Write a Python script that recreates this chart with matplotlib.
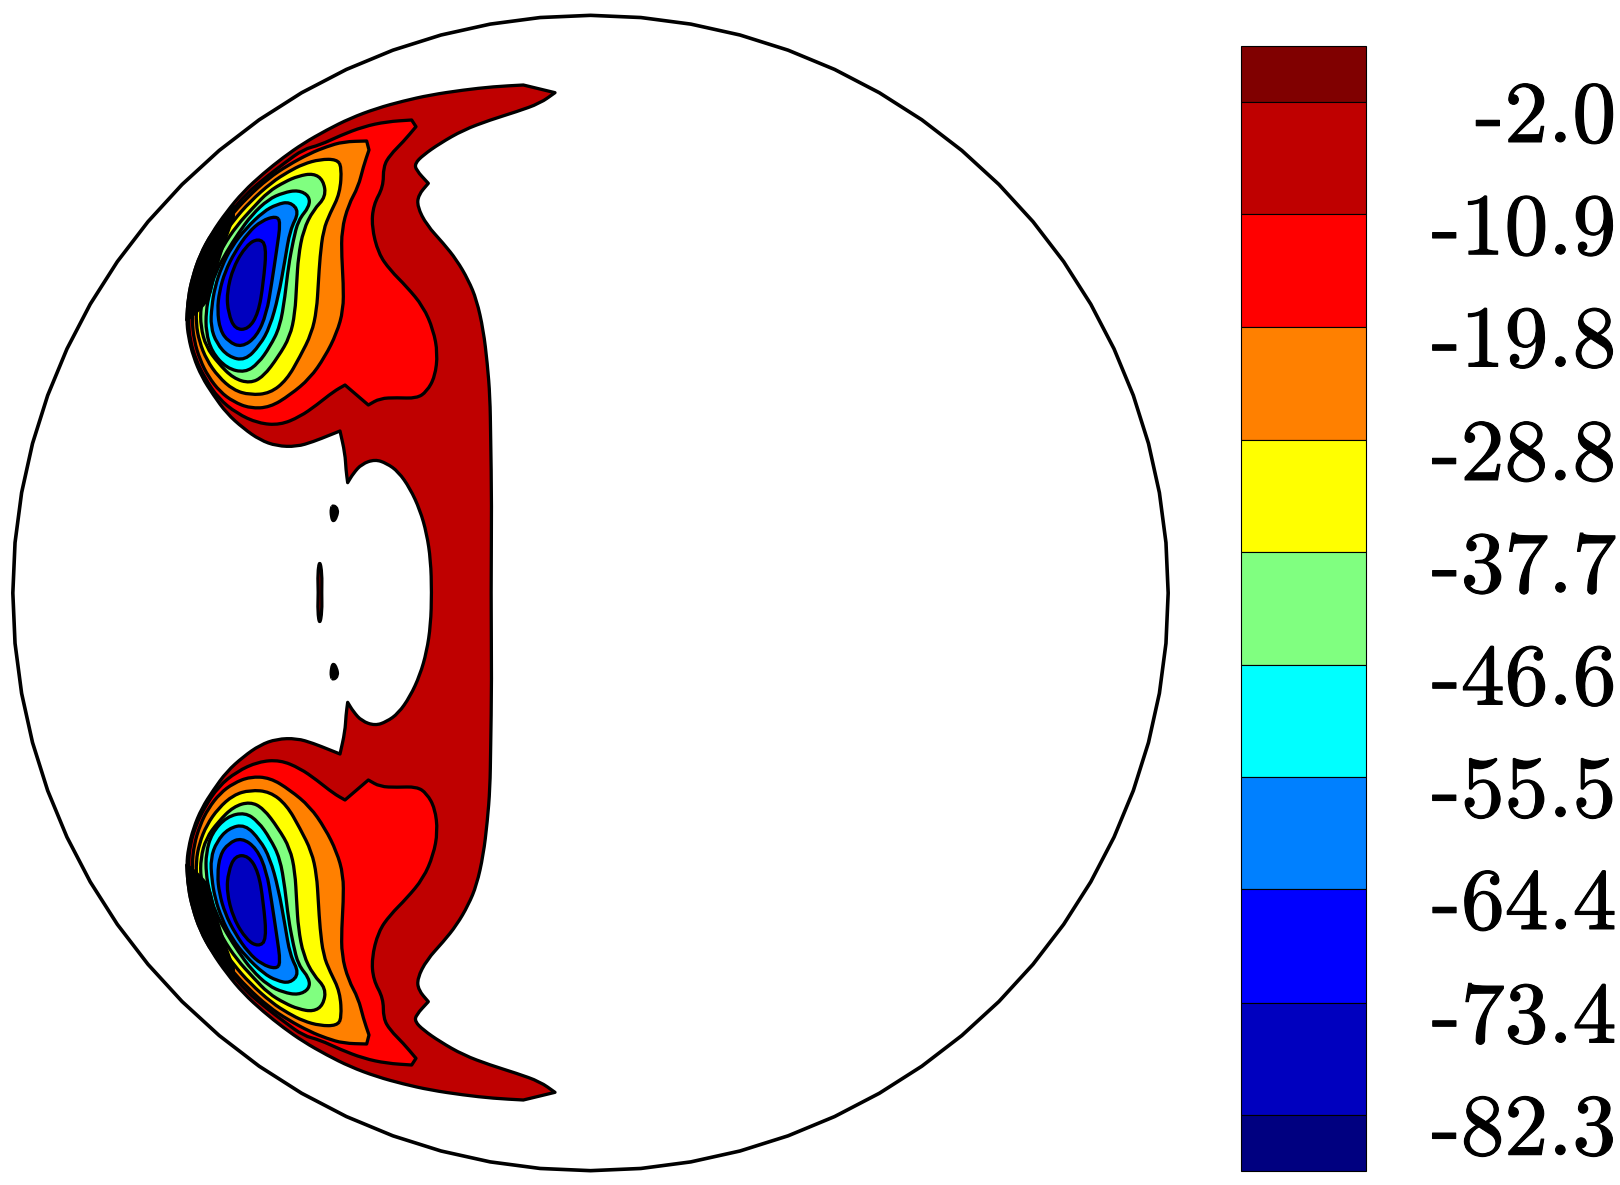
import matplotlib
matplotlib.use('Agg')
import numpy as np
import matplotlib.pyplot as plt
import matplotlib.patheffects as pe
from matplotlib.patches import RegularPolygon, PathPatch
from matplotlib.path import Path

#
# Data: contour outlines of the upper vortex (the lower one is its mirror image)
# A point written twice is a sharp corner
#

mirror_y = 1567.5

outer_left = [(1155,68),(1155,68),(1060,45),(1060,45),(970,50),(880,60),(780,75),(700,93),(620,115),(540,145),(470,180),(400,220),
              (340,262),(280,310),(220,365),(170,425),(125,490),(90,555),(68,620),(55,680),(50,750),(55,800),
              (70,860),(95,920),(130,975),(170,1030),(220,1075),(270,1110),(320,1128),(380,1130),(430,1115),
              (480,1095),(510,1083),(510,1083)]
cavity = [(525,1150),(528,1200),(533,1238),(533,1238),(550,1210),(575,1182),(615,1168),(650,1180),(685,1205),(720,1255),
          (750,1320),(770,1390),(782,1470),(785,1567.5)]
outer_right = [(1155,68),(1155,68),(1110,100),(1040,125),(960,150),(880,180),(810,220),(760,255),(735,280),(738,300),
               (775,340),(775,340),(745,375),(742,410),(770,465),(820,520),(860,570),(895,630),(920,690),(940,780),
               (952,880),(960,980),(962,1100),(965,1300),(963,1567.5)]

level_red = [(725,150),(725,150),(650,155),(580,170),(510,197),(450,225),(400,238),(345,278),(290,320),(228,372),(178,432),
             (135,498),(100,560),(75,625),(60,690),(55,750),(60,810),(78,870),(105,925),(145,985),(200,1030),
             (265,1060),(330,1065),(390,1040),(440,1005),(490,965),(525,945),(525,945),(560,975),(595,1005),(595,1005),(630,985),
             (680,983),(740,985),(770,965),(795,920),(803,850),(790,780),(760,710),(710,650),(660,600),(625,550),
             (605,470),(610,405),(640,350),(640,290),(660,255),(700,215),(738,170),(738,170)]
level_orange = [(590,213),(590,213),(520,215),(470,230),(420,250),(355,285),(295,325),(232,382),(180,440),(135,503),
                (105,565),(85,630),(70,690),(66,750),(72,810),(90,870),(115,920),(150,965),(190,995),(240,1015),(300,1012),(360,975),
                (420,925),(465,860),(500,790),(520,720),(520,640),(515,560),(515,480),(535,405),(565,350),(580,290),
                (597,240),(597,240)]
level_yellow = [(500,268),(450,268),(400,282),(355,305),(305,337),(240,395),(190,452),(145,515),(110,578),(95,640),
                (80,700),(78,760),(88,815),(110,870),(145,920),(190,960),(240,975),(300,970),(350,930),(390,860),(425,790),
                (440,720),(445,640),(450,560),(460,480),(480,430),(510,370),(515,290)]
level_green = [(430,310),(385,318),(345,335),(295,365),(250,412),(200,467),(158,530),(125,595),(105,655),(92,710),
               (92,770),(108,830),(145,880),(190,925),(240,940),(280,920),(325,860),(360,800),(375,730),(380,640),(385,560),
               (400,480),(430,420),(468,380),(460,330)]
level_cyan = [(385,360),(340,368),(295,388),(245,435),(205,490),(170,545),(135,610),(118,670),(108,725),(108,785),
              (125,845),(170,895),(225,908),(265,880),(300,830),(330,770),(345,680),(355,590),(370,510),(385,450),
              (418,410),(418,378)]
level_azure = [(360,395),(320,403),(280,425),(228,475),(185,530),(155,590),(135,650),(125,710),(122,770),(140,820),
               (175,860),(225,872),(270,825),(300,770),(325,680),(345,570),(360,480),(388,425)]
level_blue = [(318,438),(275,452),(235,487),(195,545),(165,605),(148,665),(142,720),(150,780),(175,815),(215,832),
              (260,800),(290,730),(305,640),(320,540),(332,455)]
level_navy = [(265,505),(230,525),(190,590),(170,670),(175,730),(195,778),(235,778),(265,730),(280,640),(290,525)]

# where the contour lines run together
crowded_lines = [(190,408),(190,408),(125,490),(90,555),(68,620),(55,680),(50,750),(50,750),(75,730),(100,705),(118,680),
                 (130,620),(148,560),(168,500),(190,440),(190,440)]

# little closed contours left of the cavity
blob_small = [(490,1305),(504,1318),(500,1340),(490,1356),(484,1340),(483,1315)]
blob_middle = [(449,1470),(456,1510),(455,1567.5),(456,1625),(449,1665),(443,1625),(445,1567.5),(443,1510)]

# colour scale
levels = [-2.0, -10.9, -19.8, -28.8, -37.7, -46.6, -55.5, -64.4, -73.4, -82.3]
band_colors = ['#800000', '#BF0000', '#FF0000', '#FF8000', '#FFFF00', '#80FF80',
               '#00FFFF', '#0080FF', '#0000FF', '#0000BF', '#000080']
scale_top = 2.45
scale_bottom = -86.75

contours = [(level_red, '#FF0000'), (level_orange, '#FF8000'), (level_yellow, '#FFFF00'), (level_green, '#80FF80'),
            (level_cyan, '#00FFFF'), (level_azure, '#0080FF'), (level_blue, '#0000FF'), (level_navy, '#0000BF')]


def mirrored(points):
    return [(x, 2 * mirror_y - y) for x, y in points]


def rounded_path(points):
    # traced points are used as curve controls, on-curve points are the midpoints
    pts = np.array(points, dtype=float)
    mids = (pts + np.roll(pts, -1, axis=0)) / 2
    verts = [mids[-1]]
    codes = [Path.MOVETO]
    for ctrl, mid in zip(pts, mids):
        verts += [ctrl, mid]
        codes += [Path.CURVE3, Path.CURVE3]
    return Path(verts, codes)


def draw_closed(ax, points, color, lw=2.35):
    ax.add_patch(PathPatch(rounded_path(points), facecolor=color, edgecolor='black', lw=lw, joinstyle='round'))


#
# Figure
#

fig = plt.figure(figsize=(16.2, 11.85), dpi=100)

# one data unit is a third of a pixel
ax = fig.add_axes([0, 0, 1, 1])
ax.set_xlim(-510, 4350)
ax.set_ylim(3345, -210)
ax.axis('off')

ax.add_patch(RegularPolygon((1261.5, 1569), 72, radius=1733, facecolor='white', edgecolor='black', lw=2.6))

# walk: upper tip, left side, cavity, lower left side, lower tip, right side back up
left_half = outer_left + cavity
whole = left_half + mirrored(left_half)[::-1][1:] + mirrored(outer_right)[2:] + outer_right[::-1][1:-2]
draw_closed(ax, whole, '#BF0000')

for points, color in contours:
    draw_closed(ax, points, color)
    draw_closed(ax, mirrored(points), color)

draw_closed(ax, crowded_lines, 'black')
draw_closed(ax, mirrored(crowded_lines), 'black')

draw_closed(ax, blob_small, 'black')
draw_closed(ax, mirrored(blob_small), 'black')
draw_closed(ax, blob_middle, '#BF0000')

# colour bar
cax = fig.add_axes([1241.3 / 1620, 1 - 1171 / 1185, 125 / 1620, 1125 / 1185])
cax.set_xlim(0, 1)
cax.set_ylim(scale_bottom, scale_top)
cax.axis('off')
edges = [scale_top] + levels + [scale_bottom]
for top, bottom, color in zip(edges[:-1], edges[1:], band_colors):
    cax.bar(0.5, top - bottom, bottom=bottom, width=1, color=color, edgecolor='black', lw=0.8, clip_on=False)

for value in levels:
    cax.annotate(f'{value:.1f}', xy=(1, value), xycoords=('axes fraction', 'data'), xytext=(180, -13),
                 textcoords='offset points', ha='right', va='center', family='cmr10', fontsize=63,
                 path_effects=[pe.withStroke(linewidth=0.8, foreground='black')])

fig.savefig('out.png', dpi=100)
